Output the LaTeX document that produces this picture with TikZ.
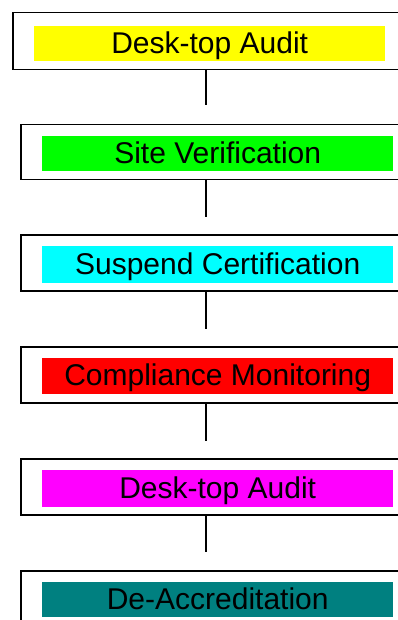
\documentclass[tikz,border=0pt]{standalone}
\usepackage{fontspec}
\setmainfont{Liberation Sans}
\definecolor{cyel}{HTML}{FFFF00}
\definecolor{cgrn}{HTML}{00FF00}
\definecolor{ccyn}{HTML}{00FFFF}
\definecolor{cred}{HTML}{FF0000}
\definecolor{cmag}{HTML}{FF00FF}
\definecolor{cteal}{HTML}{008080}
\begin{document}
\begin{tikzpicture}[x=1pt,y=-1pt,
  outerbox/.style={draw=black, line width=1.5pt, minimum width=388pt, minimum height=56pt, inner sep=0pt, anchor=north west},
  innerbox/.style={minimum width=351pt, minimum height=36pt, inner sep=0pt, anchor=north west, font=\fontsize{30}{36}\selectfont, text=black, text height=21pt, text depth=1.6pt},
  link/.style={draw=black, line width=1.5pt}]
\useasboundingbox (0,0) rectangle (398,620);
\clip (0,0) rectangle (398,620);
\fill[white] (0,0) rectangle (398,620);
% outer boxes
\node[outerbox, minimum height=57pt] (o1) at (12,12) {};
\node[outerbox, minimum height=55pt] (o2) at (20,124) {};
\node[outerbox] (o3) at (20,234) {};
\node[outerbox] (o4) at (20,346) {};
\node[outerbox] (o5) at (20,458) {};
\node[outerbox] (o6) at (20,570) {};
% inner coloured labels
\node[innerbox, fill=cyel, minimum height=35pt] (i1) at (34,26) {Desk-top Audit};
\node[innerbox, fill=cgrn, minimum height=35pt] (i2) at (42,136) {Site Verification};
\node[innerbox, fill=ccyn, minimum height=37pt] (i3) at (42,246) {Suspend Certification};
\node[innerbox, fill=cred] (i4) at (42,358) {Compliance Monitoring};
\node[innerbox, fill=cmag, minimum height=37pt] (i5) at (42,470) {Desk-top Audit};
\node[innerbox, fill=cteal, minimum height=35pt] (i6) at (42,582) {De-Accreditation};
% free ends of the connectors
\coordinate (e1) at (206,105);
\coordinate (e2) at (206,217);
\coordinate (e3) at (206,329);
\coordinate (e4) at (206,441);
\coordinate (e5) at (206,552);
% connectors
\draw[link] (e1 |- o1.south) -- (e1);
\draw[link] (e2 |- o2.south) -- (e2);
\draw[link] (e3 |- o3.south) -- (e3);
\draw[link] (e4 |- o4.south) -- (e4);
\draw[link] (e5 |- o5.south) -- (e5);
\end{tikzpicture}
\end{document}
